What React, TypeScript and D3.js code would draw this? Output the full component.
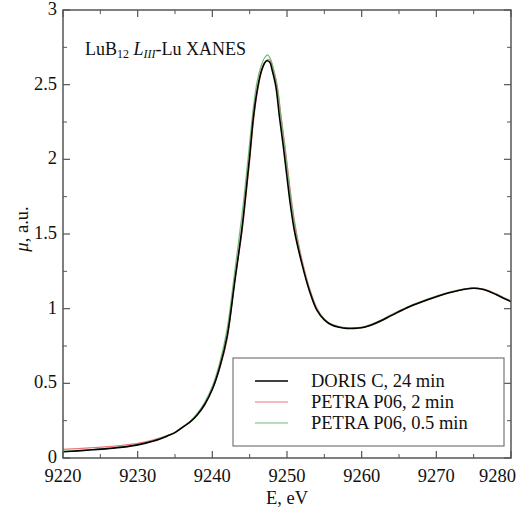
import React from "react";
import * as d3 from "d3";

const energyBlack = [9220, 9222, 9224, 9226, 9228, 9230, 9232, 9234, 9235, 9236, 9237, 9238, 9239, 9240, 9241, 9242, 9243, 9244, 9244.5, 9245, 9245.5, 9246, 9246.5, 9247, 9247.3, 9247.7, 9248, 9248.5, 9249, 9249.5, 9250, 9250.5, 9251, 9252, 9253, 9254, 9255, 9256, 9257, 9258, 9259, 9260, 9261, 9262, 9264, 9266, 9268, 9270, 9272, 9274, 9275, 9276, 9277, 9278, 9279, 9280];
const muDoris = [0.042, 0.048, 0.055, 0.063, 0.073, 0.088, 0.112, 0.148, 0.17, 0.205, 0.24, 0.29, 0.36, 0.46, 0.61, 0.82, 1.18, 1.55, 1.78, 2.02, 2.28, 2.46, 2.58, 2.645, 2.66, 2.65, 2.6, 2.49, 2.28, 2.09, 1.88, 1.68, 1.52, 1.3, 1.12, 0.99, 0.925, 0.89, 0.875, 0.868, 0.868, 0.872, 0.885, 0.905, 0.955, 1.005, 1.045, 1.08, 1.11, 1.132, 1.137, 1.132, 1.117, 1.095, 1.07, 1.047];

const energyPetra = [9220, 9222, 9224, 9226, 9228, 9230, 9232, 9234, 9235, 9236, 9237, 9238, 9239, 9240, 9241, 9242, 9243, 9244, 9244.5, 9245, 9245.5, 9246, 9246.5, 9247, 9247.4, 9247.8, 9248.2, 9248.7, 9249.2, 9249.7, 9250.2, 9250.7, 9251.2, 9252, 9253, 9254, 9255, 9256, 9257, 9258, 9259, 9260, 9261, 9262, 9264, 9266, 9268, 9270, 9272, 9274, 9275, 9276, 9277, 9278, 9279, 9280];
const muPetra2 = [0.058, 0.063, 0.069, 0.076, 0.085, 0.098, 0.12, 0.152, 0.173, 0.205, 0.24, 0.29, 0.36, 0.46, 0.6, 0.8, 1.19, 1.52, 1.75, 1.99, 2.25, 2.44, 2.57, 2.645, 2.67, 2.66, 2.6, 2.49, 2.29, 2.1, 1.89, 1.69, 1.53, 1.33, 1.14, 1.005, 0.93, 0.893, 0.877, 0.869, 0.868, 0.872, 0.884, 0.903, 0.952, 1.002, 1.043, 1.079, 1.11, 1.133, 1.139, 1.135, 1.121, 1.099, 1.075, 1.052];
const muPetra05 = [0.045, 0.05, 0.057, 0.065, 0.075, 0.09, 0.114, 0.15, 0.173, 0.208, 0.245, 0.3, 0.375, 0.48, 0.64, 0.87, 1.25, 1.64, 1.87, 2.11, 2.35, 2.52, 2.62, 2.68, 2.7, 2.67, 2.6, 2.48, 2.28, 2.08, 1.87, 1.67, 1.51, 1.31, 1.13, 0.995, 0.93, 0.895, 0.88, 0.872, 0.872, 0.877, 0.89, 0.91, 0.96, 1.01, 1.05, 1.085, 1.115, 1.135, 1.139, 1.133, 1.118, 1.096, 1.072, 1.05];

const xTicks = [9220, 9230, 9240, 9250, 9260, 9270, 9280];
const xMinor = [9225, 9235, 9245, 9255, 9265, 9275];
const yTicks = [0, 0.5, 1, 1.5, 2, 2.5, 3];
const yMinor = [0.25, 0.75, 1.25, 1.75, 2.25, 2.75];

const seriesNames = ["DORIS C, 24 min", "PETRA P06, 2 min", "PETRA P06, 0.5 min"];
const seriesColors = ["#000000", "#e8787a", "#72b872"];

const FONT = '"Liberation Serif", "Times New Roman", serif';

export default function App() {
  const W = 518, H = 512;
  const left = 63, right = 511, top = 10, bottom = 458;
  const x = d3.scaleLinear().domain([9220, 9280]).range([left, right]);
  const y = d3.scaleLinear().domain([0, 3]).range([bottom, top]);
  const line = d3.line<[number, number]>().x(d => x(d[0])).y(d => y(d[1])).curve(d3.curveCatmullRom.alpha(0.5));
  const series: [number[], number[]][] = [
    [energyBlack, muDoris],
    [energyPetra, muPetra2],
    [energyPetra, muPetra05],
  ];
  const order = [1, 2, 0];
  const axisColor = "#555";
  const fsz = 18.5;
  return (
    <svg width={W} height={H} fontFamily={FONT} style={{ position: "absolute", left: 0, top: 0, background: "#fff" }}>
      <defs>
        <clipPath id="clip"><rect x={left} y={top} width={right - left} height={bottom - top} /></clipPath>
      </defs>
      <g clipPath="url(#clip)">
        {order.map(i => {
          const [ex, mu] = series[i];
          const pts = ex.map((e, k) => [e, mu[k]] as [number, number]);
          return <path key={i} d={line(pts) || ""} fill="none" stroke={seriesColors[i]} strokeWidth={i === 0 ? 1.6 : 1.2} />;
        })}
      </g>
      {xTicks.map((t, i) => (
        <g key={"xt" + t}>
          <line x1={x(t)} x2={x(t)} y1={bottom} y2={bottom - 7} stroke={axisColor} strokeWidth={1.2} />
          <line x1={x(t)} x2={x(t)} y1={top} y2={top + 7} stroke={axisColor} strokeWidth={1.2} />
          <text x={i === xTicks.length - 1 ? 516 : x(t)} y={482} textAnchor={i === xTicks.length - 1 ? "end" : "middle"} fontSize={fsz} fill="#111">{t}</text>
        </g>
      ))}
      {xMinor.map(t => (
        <g key={"xm" + t}>
          <line x1={x(t)} x2={x(t)} y1={bottom} y2={bottom - 4} stroke={axisColor} strokeWidth={1} />
          <line x1={x(t)} x2={x(t)} y1={top} y2={top + 4} stroke={axisColor} strokeWidth={1} />
        </g>
      ))}
      {yTicks.map(t => (
        <g key={"yt" + t}>
          <line x1={left} x2={left + 7} y1={y(t)} y2={y(t)} stroke={axisColor} strokeWidth={1.2} />
          <line x1={right} x2={right - 7} y1={y(t)} y2={y(t)} stroke={axisColor} strokeWidth={1.2} />
          <text x={57} y={y(t) + 5} textAnchor="end" fontSize={fsz} fill="#111">{t}</text>
        </g>
      ))}
      {yMinor.map(t => (
        <g key={"ym" + t}>
          <line x1={left} x2={left + 4} y1={y(t)} y2={y(t)} stroke={axisColor} strokeWidth={1} />
          <line x1={right} x2={right - 4} y1={y(t)} y2={y(t)} stroke={axisColor} strokeWidth={1} />
        </g>
      ))}
      <rect x={left} y={top} width={right - left} height={bottom - top} fill="none" stroke={axisColor} strokeWidth={1.5} />
      <text x={85} y={55} fontSize={18} fill="#111">
        LuB<tspan fontSize={12} dy={3}>12</tspan>
        <tspan dy={-3}> </tspan>
        <tspan fontStyle="italic">L</tspan>
        <tspan fontStyle="italic" fontSize={12} dy={3}>III</tspan>
        <tspan dy={-3}>-Lu XANES</tspan>
      </text>
      <text x={287} y={504} textAnchor="middle" fontSize={fsz} fill="#111">E, eV</text>
      <text transform={`translate(28,229) rotate(-90)`} textAnchor="middle" fontSize={fsz} fill="#111">
        <tspan fontStyle="italic">μ</tspan>, a.u.
      </text>
      <rect x={233} y={358} width={271} height={88} fill="#fff" stroke="#777" strokeWidth={1.2} />
      {seriesNames.map((n, i) => {
        const ly = 381 + i * 21;
        return (
          <g key={n}>
            <line x1={255} x2={288} y1={ly} y2={ly} stroke={seriesColors[i]} strokeWidth={i === 0 ? 1.6 : 1.2} />
            <text x={311} y={ly + 6} fontSize={fsz} fill="#111">{n}</text>
          </g>
        );
      })}
    </svg>
  );
}
